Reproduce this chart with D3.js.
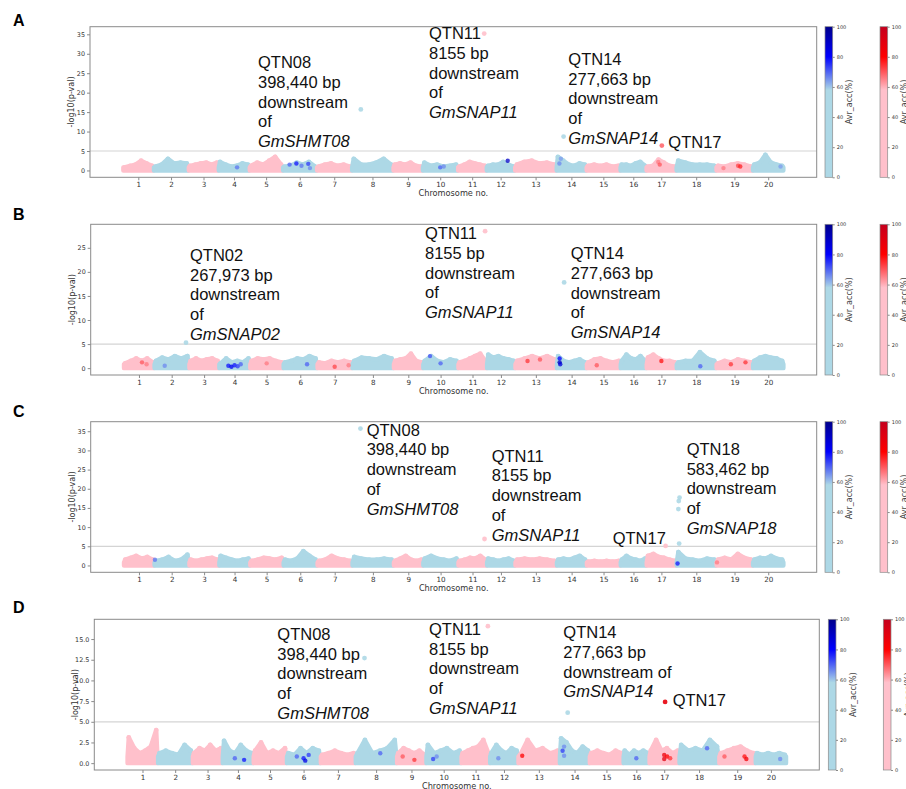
<!DOCTYPE html>
<html>
<head>
<meta charset="utf-8">
<script src="https://cdn.jsdelivr.net/npm/d3@7"></script>
<style>
  body { margin: 0; background: #fff; }
  svg { display: block; }
</style>
</head>
<body>
<svg id="fig" width="906" height="789"></svg>
<script>
// ---------- data ----------
const chromosomes = d3.range(1, 21);
// marker counts per chromosome (defines the width of each chromosome on the x axis)
const chromSizes = [306, 350, 300, 310, 334, 340, 350, 416, 294, 353, 287, 283, 417, 300, 340, 260, 300, 400, 366, 310];
const colorbarTicks = [0, 20, 40, 60, 80, 100];

// upper envelope of the marker cloud, -log10(p), six samples along each chromosome
const cloudA = [
  [0.8, 1.2, 1.5, 2.5, 1.8, 1.2], [1.0, 1.5, 3.0, 1.8, 2.0, 1.8], [1.2, 1.5, 1.8, 2.0, 1.5, 2.0], [2.2, 1.5, 1.0, 1.2, 1.8, 1.5],
  [1.2, 2.0, 1.5, 2.5, 3.5, 1.5], [1.0, 1.2, 2.0, 1.5, 2.2, 1.0], [1.0, 1.5, 1.8, 1.2, 1.5, 1.0], [3.0, 1.5, 1.5, 2.0, 3.0, 1.5],
  [1.5, 1.8, 1.5, 2.0, 1.2, 1.0], [2.0, 1.2, 1.5, 1.0, 1.2, 1.5], [1.0, 1.5, 2.2, 1.8, 1.5, 1.2], [1.2, 1.5, 1.5, 2.2, 1.5, 1.0],
  [1.5, 2.2, 2.5, 1.8, 2.0, 1.5], [3.5, 2.5, 1.5, 1.2, 1.8, 1.5], [1.2, 1.5, 1.2, 1.5, 1.0, 1.2], [1.5, 1.5, 1.2, 1.8, 2.2, 1.2],
  [1.0, 1.2, 2.8, 2.0, 1.2, 1.0], [2.5, 2.0, 1.5, 1.5, 1.5, 1.2], [1.2, 1.0, 1.5, 1.8, 1.5, 1.0], [1.5, 2.0, 4.0, 2.0, 1.5, 1.2]
];
const cloudB = [
  [1.0, 1.5, 2.0, 1.5, 2.0, 1.2], [1.5, 2.2, 1.8, 2.5, 2.0, 2.5], [1.5, 2.0, 1.5, 1.8, 2.0, 1.5], [1.0, 2.0, 1.2, 1.5, 1.2, 2.0],
  [1.5, 2.0, 1.8, 2.0, 1.5, 1.2], [1.2, 1.5, 2.0, 1.8, 2.5, 2.0], [1.2, 1.0, 1.5, 1.2, 1.5, 1.2], [1.5, 2.2, 2.0, 1.8, 2.5, 2.0],
  [1.5, 1.8, 2.0, 3.0, 1.5, 1.2], [1.5, 2.5, 1.5, 1.2, 1.8, 1.5], [1.2, 1.5, 2.0, 2.5, 3.0, 1.5], [2.8, 2.2, 2.5, 2.0, 1.8, 1.5],
  [1.5, 2.0, 2.5, 2.0, 2.5, 1.8], [2.5, 1.5, 1.2, 1.5, 1.8, 1.2], [1.2, 1.8, 2.0, 1.5, 1.2, 1.5], [1.5, 2.8, 2.0, 1.8, 2.5, 1.5],
  [2.2, 2.8, 2.0, 1.5, 1.5, 1.2], [1.2, 1.5, 1.5, 3.3, 2.0, 1.5], [1.0, 1.5, 1.2, 1.8, 1.5, 1.2], [1.5, 2.2, 2.5, 2.2, 2.0, 1.5]
];
const cloudC = [
  [1.5, 2.0, 2.5, 1.8, 2.2, 1.5], [1.2, 1.5, 2.2, 1.2, 1.5, 2.8], [1.5, 1.2, 1.5, 1.8, 2.0, 1.5], [2.5, 2.0, 1.5, 1.2, 1.5, 1.8],
  [1.2, 1.5, 2.0, 1.8, 1.5, 2.0], [1.5, 1.2, 1.8, 3.7, 2.5, 1.5], [1.2, 1.5, 2.5, 1.8, 1.5, 1.2], [2.2, 1.8, 1.5, 1.5, 1.8, 1.5],
  [1.2, 1.8, 2.5, 1.5, 1.2, 1.5], [1.8, 2.5, 1.8, 1.5, 1.2, 1.8], [1.2, 1.5, 2.0, 1.8, 2.5, 1.5], [1.8, 1.5, 1.2, 1.5, 1.8, 1.2],
  [1.5, 1.8, 1.5, 1.8, 1.5, 1.2], [1.5, 1.8, 1.5, 2.0, 2.5, 1.5], [1.0, 1.2, 1.0, 1.2, 1.0, 1.2], [1.5, 2.5, 1.8, 1.5, 1.2, 1.8],
  [2.5, 3.0, 2.2, 2.0, 1.5, 1.2], [3.5, 1.8, 1.5, 1.2, 1.8, 1.5], [1.5, 2.0, 1.5, 3.0, 2.0, 1.5], [1.5, 2.0, 1.8, 2.5, 1.8, 1.5]
];
const cloudD = [
  [3.1, 1.8, 1.2, 1.5, 2.0, 4.0], [1.2, 1.5, 1.2, 1.0, 2.2, 1.5], [1.2, 1.8, 1.5, 2.2, 1.5, 1.8], [2.7, 1.5, 1.2, 2.2, 1.5, 1.2],
  [1.5, 2.5, 1.2, 1.5, 1.2, 1.8], [1.2, 1.0, 1.8, 1.2, 1.8, 1.5], [1.0, 1.2, 1.5, 1.2, 1.0, 1.2], [1.2, 2.8, 1.2, 1.5, 1.8, 2.8],
  [1.2, 1.8, 1.5, 1.2, 1.5, 1.0], [2.2, 1.2, 1.5, 1.8, 1.2, 1.5], [1.2, 1.5, 1.8, 2.0, 2.8, 1.2], [1.2, 2.2, 1.5, 1.2, 1.8, 1.5],
  [1.0, 2.8, 1.5, 1.8, 1.2, 1.5], [3.0, 2.5, 1.5, 1.2, 2.0, 1.5], [1.2, 1.5, 1.2, 1.0, 1.5, 1.2], [1.5, 1.0, 1.5, 1.2, 1.5, 1.2],
  [1.5, 2.8, 1.5, 1.8, 1.2, 1.5], [2.2, 1.5, 1.8, 1.5, 2.8, 2.0], [1.2, 1.5, 1.8, 2.0, 1.5, 1.2], [1.2, 1.0, 1.2, 1.0, 1.2, 1.0]
];

// markers with high average accuracy: [chromosome, relative position, -log10(p), Avr_acc %]
const accentA = [
  [4, 0.6, 0.8, 68], [6, 0.2, 1.5, 70], [6, 0.4, 1.8, 78], [6, 0.55, 1.2, 68], [6, 0.75, 1.7, 74], [6, 0.8, 0.6, 66],
  [10, 0.5, 0.8, 70], [10, 0.6, 1.0, 66], [12, 0.75, 2.5, 90], [14, 0.1, 1.8, 66], [14, 0.15, 3.0, 64],
  [17, 0.4, 2.2, 66], [17, 0.45, 1.5, 70], [19, 0.2, 0.6, 66], [19, 0.6, 1.2, 72], [19, 0.66, 1.0, 76], [20, 0.9, 1.0, 64]
];
const accentB = [
  [1, 0.6, 1.2, 70], [1, 0.75, 0.8, 66], [2, 0.3, 0.5, 66], [4, 0.3, 0.5, 78], [4, 0.4, 0.3, 82], [4, 0.5, 0.6, 78],
  [4, 0.6, 0.4, 74], [4, 0.7, 0.8, 70], [5, 0.5, 1.0, 66], [6, 0.7, 0.8, 70], [7, 0.5, 0.3, 72], [7, 0.9, 0.6, 66],
  [10, 0.2, 2.5, 72], [10, 0.5, 1.0, 70], [13, 0.3, 1.5, 74], [13, 0.6, 1.8, 70], [14, 0.1, 1.2, 92], [14, 0.1, 2.0, 80],
  [14, 0.12, 0.8, 86], [15, 0.3, 0.6, 70], [17, 0.5, 1.5, 78], [18, 0.6, 0.4, 70], [19, 0.4, 0.8, 74], [19, 0.8, 1.2, 74]
];
const accentC = [
  [2, 0.02, 1.5, 68], [18, 0.03, 0.5, 78], [19, 0.02, 0.8, 66]
];
const accentD = [
  [4, 0.4, 0.6, 70], [4, 0.7, 0.4, 78], [6, 0.3, 0.8, 70], [6, 0.5, 0.6, 78], [6, 0.55, 0.3, 84], [6, 0.65, 1.0, 74],
  [8, 0.6, 1.2, 70], [9, 0.2, 0.8, 70], [9, 0.6, 0.4, 74], [10, 0.2, 0.5, 74], [10, 0.3, 0.8, 66], [12, 0.3, 0.6, 66],
  [13, 0.1, 0.9, 80], [14, 0.15, 2.0, 66], [14, 0.1, 1.5, 74], [14, 0.15, 0.9, 66], [16, 0.5, 0.6, 70],
  [17, 0.5, 1.0, 86], [17, 0.5, 0.5, 90], [17, 0.6, 0.8, 80], [17, 0.7, 0.6, 74], [18, 0.7, 1.8, 70],
  [19, 0.15, 0.8, 70], [19, 0.7, 0.8, 78], [19, 0.75, 0.5, 84], [20, 0.8, 0.5, 66]
];

// significant markers: [chromosome, relative position, -log10(p), Avr_acc %]
const qtnA = [[8, 0.22, 15.7, 30], [11, 0.92, 35.2, 30], [14, 0.24, 8.7, 30], [17, 0.52, 6.4, 68]];
const qtnB = [[2, 0.91, 5.3, 30], [11, 0.94, 28.46, 30], [14, 0.25, 17.8, 30]];
const qtnC = [[8, 0.2, 35.7, 30], [11, 0.92, 6.9, 30], [17, 0.64, 5.1, 30],
              [18, 0.08, 17.7, 30], [18, 0.06, 16.8, 30], [18, 0.05, 14.7, 30], [18, 0.07, 5.7, 30], [18, 0.06, 3.2, 40], [18, 0.05, 2.6, 30]];
const qtnD = [[8, 0.22, 12.7, 30], [11, 0.93, 16.56, 30], [14, 0.27, 6.1, 30], [17, 0.53, 7.4, 88]];

// annotation texts
const notesA = [
  ["QTN08", "398,440 bp", "downstream", "of", "GmSHMT08"],
  ["QTN11", "8155 bp", "downstream", "of", "GmSNAP11"],
  ["QTN14", "277,663 bp", "downstream", "of", "GmSNAP14"],
  ["QTN17"]
];
const notesB = [
  ["QTN02", "267,973 bp", "downstream", "of", "GmSNAP02"],
  ["QTN11", "8155 bp", "downstream", "of", "GmSNAP11"],
  ["QTN14", "277,663 bp", "downstream", "of", "GmSNAP14"]
];
const notesC = [
  ["QTN08", "398,440 bp", "downstream", "of", "GmSHMT08"],
  ["QTN11", "8155 bp", "downstream", "of", "GmSNAP11"],
  ["QTN17"],
  ["QTN18", "583,462 bp", "downstream", "of", "GmSNAP18"]
];
const notesD = [
  ["QTN08", "398,440 bp", "downstream", "of", "GmSHMT08"],
  ["QTN11", "8155 bp", "downstream", "of", "GmSNAP11"],
  ["QTN14", "277,663 bp", "downstream of", "GmSNAP14"],
  ["QTN17"]
];
const yTicksA = d3.range(0, 36, 5);
const yTicksB = d3.range(0, 26, 5);
const yTicksC = d3.range(0, 36, 5);
const yTicksD = d3.range(0, 15.1, 2.5);

// ---------- layout ----------
const panels = [
  { letter: "A", letterY: 26, left: 90, right: 816.7, top: 26.7, bottom: 177.3, cbBlue: 825, cbRed: 880,
    cloud: cloudA, accent: accentA, qtn: qtnA, notes: notesA, yTicks: yTicksA, fmt: d3.format("d"),
    notePos: [[258, 68.3], [429, 39.3], [568.3, 65], [668.3, 147.7]] },
  { letter: "B", letterY: 220, left: 90.7, right: 816.7, top: 224.3, bottom: 375, cbBlue: 825, cbRed: 880,
    cloud: cloudB, accent: accentB, qtn: qtnB, notes: notesB, yTicks: yTicksB, fmt: d3.format("d"),
    notePos: [[190, 261], [425, 239.3], [570.7, 259.3]] },
  { letter: "C", letterY: 417, left: 90.7, right: 816.7, top: 421.7, bottom: 572.3, cbBlue: 825, cbRed: 880,
    cloud: cloudC, accent: accentC, qtn: qtnC, notes: notesC, yTicks: yTicksC, fmt: d3.format("d"),
    notePos: [[366.7, 435.7], [491.7, 461.7], [612.7, 544.3], [686.7, 455]] },
  { letter: "D", letterY: 613, left: 94.3, right: 819.3, top: 619.3, bottom: 770, cbBlue: 828.3, cbRed: 883.3,
    cloud: cloudD, accent: accentD, qtn: qtnD, notes: notesD, yTicks: yTicksD, fmt: d3.format(".1f"),
    notePos: [[277.3, 640], [429, 635], [563.3, 638.3], [672.7, 706]] }
];

const LINE_STEP = 19.7;
const PINK = "#ffc0cb", LIGHTBLUE = "#add8e6";
const AXIS_GREY = "#8a8a8a", TEXT_GREY = "#333";
const FONT_TICK = "DejaVu Sans, sans-serif";
const FONT_NOTE = "Liberation Sans, Arial, sans-serif";

// colour maps: even chromosomes in blues, odd chromosomes in reds
const blueMap = d3.scaleLinear().domain([0, 58, 80, 100]).range([LIGHTBLUE, LIGHTBLUE, "#0000ff", "#00008b"]).clamp(true);
const redMap = d3.scaleLinear().domain([0, 58, 80, 100]).range([PINK, PINK, "#ff0000", "#c4001e"]).clamp(true);
const cmapFor = chr => (chr % 2 === 0 ? blueMap : redMap);

const total = d3.sum(chromSizes);
const starts = chromSizes.map((s, i) => d3.sum(chromSizes.slice(0, i)));
const markerIndex = (chr, frac) => starts[chr - 1] + frac * chromSizes[chr - 1];
const centers = chromosomes.map(c => markerIndex(c, 0.5));
const sampleFracs = [0.05, 0.23, 0.41, 0.59, 0.77, 0.95];

const svg = d3.select("#fig");
const defs = svg.append("defs");

function gradient(id, map) {
  const g = defs.append("linearGradient").attr("id", id)
    .attr("x1", 0).attr("y1", 1).attr("x2", 0).attr("y2", 0);
  d3.range(0, 101, 2).forEach(v => g.append("stop").attr("offset", v / 100).attr("stop-color", map(v)));
}
gradient("gradBlue", blueMap);
gradient("gradRed", redMap);

function drawPanel(p) {
  const g = svg.append("g");
  const ymax = d3.max([d3.max(p.qtn, d => d[2]), d3.max(p.cloud.flat())]);
  const x = d3.scaleLinear().domain([-0.05 * total, 1.05 * total]).range([p.left, p.right]);
  const y = d3.scaleLinear().domain([-0.05 * ymax, 1.05 * ymax]).range([p.bottom, p.top]);

  // panel letter
  svg.append("text").attr("x", 13).attr("y", p.letterY)
    .attr("font-family", "Liberation Sans, Arial, sans-serif").attr("font-weight", "bold")
    .attr("font-size", 16).attr("fill", "#000").text(p.letter);

  // threshold line
  g.append("line").attr("x1", p.left).attr("x2", p.right).attr("y1", y(5)).attr("y2", y(5))
    .attr("stroke", "#d4d4d4").attr("stroke-width", 1.2);

  // marker cloud per chromosome
  const area = d3.area().x(d => x(d[0])).y0(y(0)).y1(d => y(d[1]));
  p.cloud.forEach((vals, i) => {
    const chr = i + 1;
    const col = chr % 2 === 0 ? LIGHTBLUE : PINK;
    const pts = vals.map((v, k) => [markerIndex(chr, sampleFracs[k]), v]);
    pts.unshift([markerIndex(chr, 0.01), Math.min(vals[0], 0.8)]);
    pts.push([markerIndex(chr, 0.99), Math.min(vals[vals.length - 1], 0.8)]);
    g.append("path").datum(pts).attr("d", area)
      .attr("fill", col).attr("stroke", col).attr("stroke-width", 4.4).attr("stroke-linejoin", "round");
    g.selectAll(null).data(vals).enter().append("circle")
      .attr("cx", (v, k) => x(markerIndex(chr, sampleFracs[k])))
      .attr("cy", v => y(v)).attr("r", 2.4).attr("fill", col);
  });

  // high-accuracy markers and significant markers
  g.selectAll(null).data(p.accent).enter().append("circle")
    .attr("cx", d => x(markerIndex(d[0], d[1])))
    .attr("cy", d => y(d[2]))
    .attr("r", 2.2)
    .attr("fill", d => cmapFor(d[0])(d[3]))
    .attr("fill-opacity", 0.75);
  g.selectAll(null).data(p.qtn).enter().append("circle")
    .attr("cx", d => x(markerIndex(d[0], d[1])))
    .attr("cy", d => y(d[2]))
    .attr("r", 2.4)
    .attr("fill", d => cmapFor(d[0])(d[3]))
    .attr("fill-opacity", 0.9);

  // frame
  g.append("rect").attr("x", p.left).attr("y", p.top)
    .attr("width", p.right - p.left).attr("height", p.bottom - p.top)
    .attr("fill", "none").attr("stroke", AXIS_GREY).attr("stroke-width", 1);

  // axes
  const xAxis = d3.axisBottom(x).tickValues(centers).tickFormat((d, i) => chromosomes[i])
    .tickSize(3).tickPadding(1.5);
  const gx = g.append("g").attr("transform", `translate(0,${p.bottom})`).call(xAxis);
  const yAxis = d3.axisLeft(y).tickValues(p.yTicks).tickFormat(p.fmt).tickSize(3).tickPadding(2);
  const gy = g.append("g").attr("transform", `translate(${p.left},0)`).call(yAxis);
  [gx, gy].forEach(a => {
    a.select(".domain").remove();
    a.selectAll(".tick line").attr("stroke", AXIS_GREY);
    a.selectAll(".tick text").attr("fill", TEXT_GREY).attr("font-family", FONT_TICK);
  });
  gx.selectAll(".tick text").attr("font-size", 7.2);
  gy.selectAll(".tick text").attr("font-size", 6.4);

  g.append("text").attr("x", (p.left + p.right) / 2).attr("y", p.bottom + 18.7)
    .attr("text-anchor", "middle").attr("font-family", FONT_TICK).attr("font-size", 8.2)
    .attr("fill", TEXT_GREY).text("Chromosome no.");
  g.append("text").attr("transform", `translate(${p.left - 16},${(p.top + p.bottom) / 2}) rotate(-90)`)
    .attr("text-anchor", "middle").attr("font-family", FONT_TICK).attr("font-size", 8)
    .attr("fill", TEXT_GREY).text("-log10(p-val)");

  // annotations
  p.notes.forEach((lines, i) => {
    const [tx, ty] = p.notePos[i];
    lines.forEach((line, k) => {
      g.append("text").attr("x", tx).attr("y", ty + k * LINE_STEP)
        .attr("font-family", FONT_NOTE).attr("font-size", 16.5).attr("fill", "#111")
        .attr("font-style", line.startsWith("Gm") ? "italic" : "normal")
        .text(line);
    });
  });

  // colour bars
  const cbY = d3.scaleLinear().domain([0, 100]).range([p.bottom, p.top]);
  [[p.cbBlue, "gradBlue"], [p.cbRed, "gradRed"]].forEach(([cx, gid]) => {
    const w = 7.7;
    g.append("rect").attr("x", cx).attr("y", p.top).attr("width", w).attr("height", p.bottom - p.top)
      .attr("fill", `url(#${gid})`).attr("stroke", AXIS_GREY).attr("stroke-width", 0.7);
    const ax = g.append("g").attr("transform", `translate(${cx + w},0)`)
      .call(d3.axisRight(cbY).tickValues(colorbarTicks).tickSize(2).tickPadding(2));
    ax.select(".domain").remove();
    ax.selectAll(".tick line").attr("stroke", AXIS_GREY);
    ax.selectAll(".tick text").attr("fill", TEXT_GREY).attr("font-size", 5).attr("font-family", FONT_TICK);
    g.append("text").attr("transform", `translate(${cx + w + 19.5},${(p.top + p.bottom) / 2}) rotate(-90)`)
      .attr("text-anchor", "middle").attr("font-family", FONT_TICK).attr("font-size", 8)
      .attr("fill", "#444").text("Avr_acc(%)");
  });
}

panels.forEach(drawPanel);
</script>
</body>
</html>
